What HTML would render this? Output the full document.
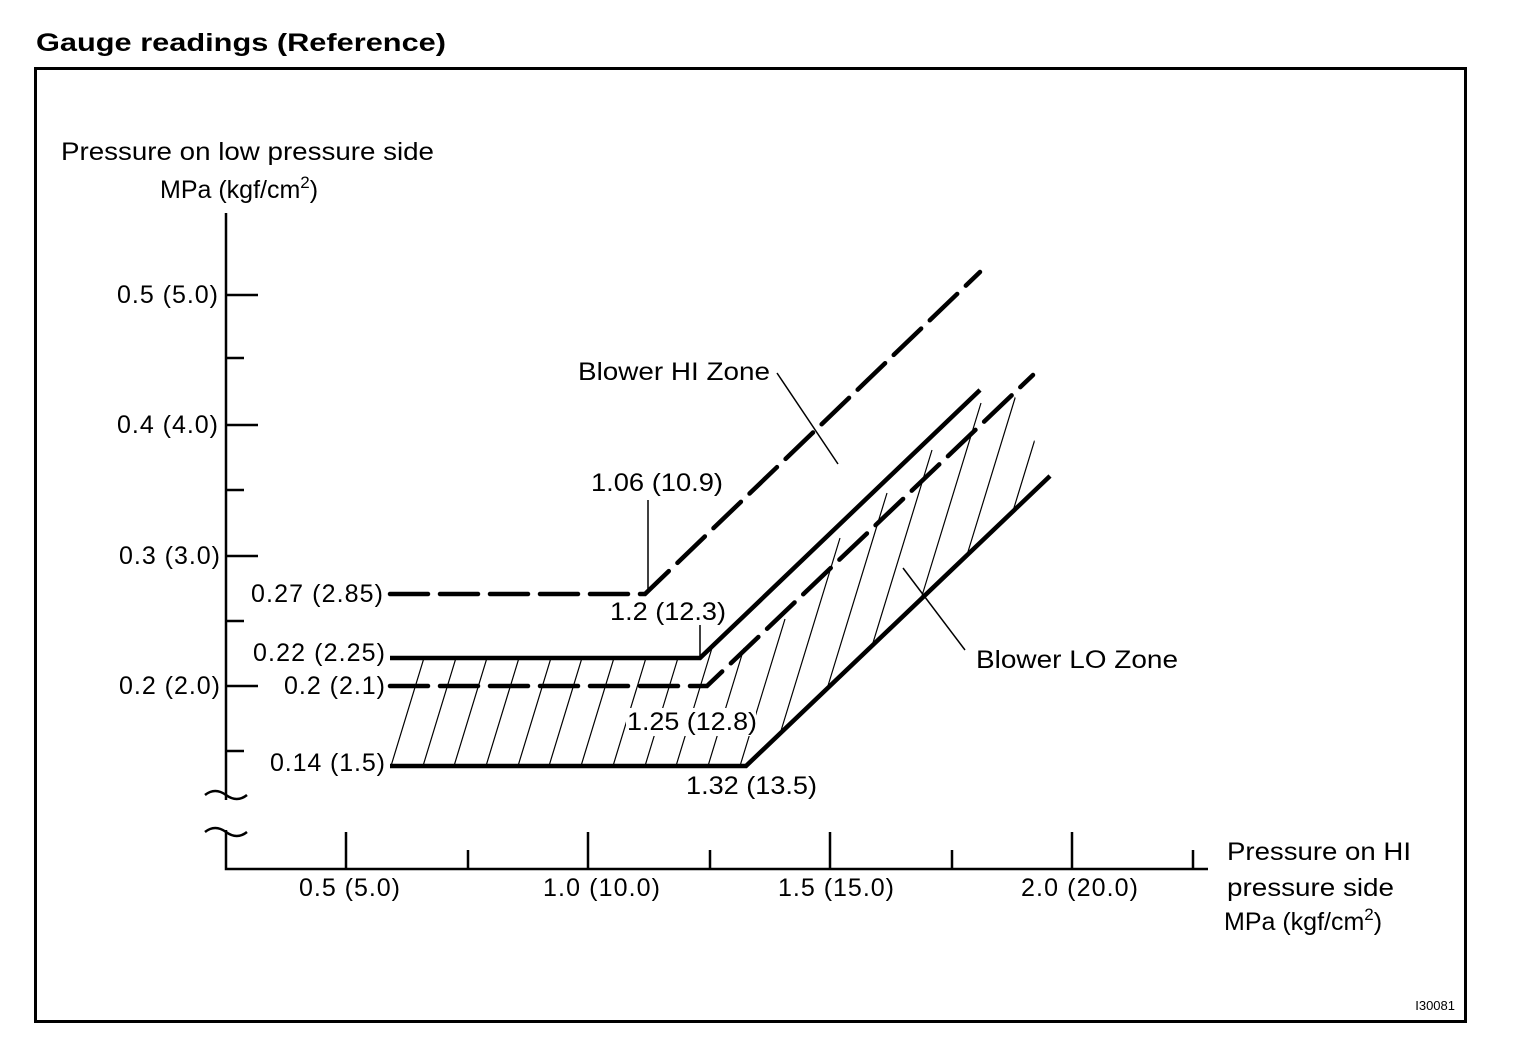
<!DOCTYPE html>
<html><head><meta charset="utf-8"><style>
html,body{margin:0;padding:0;background:#fff}
svg text{font-family:"Liberation Sans",Arial,sans-serif;fill:#000}
</style></head><body>
<svg width="1520" height="1046" viewBox="0 0 1520 1046" xmlns="http://www.w3.org/2000/svg">
<defs>
<clipPath id="hz"><polygon points="390,658 700,658 980,390 1012,390 1050,476 746,766 390,766"/></clipPath>
</defs>
<text x="36" y="51" font-size="25" font-weight="bold" textLength="410" lengthAdjust="spacingAndGlyphs">Gauge readings (Reference)</text>
<rect x="35.5" y="68.5" width="1430" height="953" fill="none" stroke="#000" stroke-width="3"/>
<text x="61" y="160" font-size="25" textLength="373" lengthAdjust="spacingAndGlyphs">Pressure on low pressure side</text>
<text x="160" y="198" font-size="25">MPa (kgf/cm<tspan font-size="17" dy="-10">2</tspan><tspan dy="10">)</tspan></text>
<g clip-path="url(#hz)" stroke="#000" stroke-width="1.2">
<path d="M391,766 l36,-118 M423,766 l36,-118 M454,766 l36,-118 M486,766 l36,-118 M518,766 l36,-118 M549,766 l36,-118 M581,766 l36,-118 M613,766 l36,-118 M645,766 l36,-118 M676,766 l36,-118 M708,766 l36,-118 M740,766 l45,-147"/>
<path d="M780,734 l60,-196 M827,689 l60,-196 M872,646 l60,-196 M921,599 l60,-196 M967,555 l60,-196 M1013,511 l60,-196"/>
</g>
<rect x="626" y="708" width="130" height="28" fill="#fff"/>
<g stroke="#000" fill="none" stroke-width="2.5">
<path d="M226,213 V800"/>
<path d="M205,795 q10,-8 21,0 q11,8 21,0"/>
<path d="M205,832 q10,-8 21,0 q11,8 21,0"/>
<path d="M226,830 V869 H1208"/>
<path d="M226,295H258 M226,358H244 M226,425H258 M226,490H244 M226,556H258 M226,621H244 M226,686H258 M226,751H244"/>
<path d="M346,832V869 M468,850V869 M588,832V869 M710,850V869 M830,832V869 M952,850V869 M1072,832V869 M1193,850V869"/>
</g>
<g font-size="25" lengthAdjust="spacingAndGlyphs">
<text x="117" y="303" textLength="101">0.5 (5.0)</text>
<text x="117" y="433" textLength="101">0.4 (4.0)</text>
<text x="119" y="564" textLength="101">0.3 (3.0)</text>
<text x="119" y="694" textLength="101">0.2 (2.0)</text>
<text x="251" y="602" textLength="132">0.27 (2.85)</text>
<text x="253" y="661" textLength="132">0.22 (2.25)</text>
<text x="284" y="694" textLength="101">0.2 (2.1)</text>
<text x="270" y="771" textLength="115">0.14 (1.5)</text>
<text x="299" y="896" textLength="101">0.5 (5.0)</text>
<text x="543" y="896" textLength="117">1.0 (10.0)</text>
<text x="778" y="896" textLength="116">1.5 (15.0)</text>
<text x="1021" y="896" textLength="117">2.0 (20.0)</text>
</g>
<g font-size="25">
<text x="1227" y="860" textLength="184" lengthAdjust="spacingAndGlyphs">Pressure on HI</text>
<text x="1227" y="896" textLength="167" lengthAdjust="spacingAndGlyphs">pressure side</text>
<text x="1224" y="930">MPa (kgf/cm<tspan font-size="17" dy="-10">2</tspan><tspan dy="10">)</tspan></text>
<text x="578" y="380" textLength="192" lengthAdjust="spacingAndGlyphs">Blower HI Zone</text>
<text x="591" y="491" textLength="132" lengthAdjust="spacingAndGlyphs">1.06 (10.9)</text>
<text x="610" y="620" textLength="116" lengthAdjust="spacingAndGlyphs">1.2 (12.3)</text>
<text x="627" y="730" textLength="130" lengthAdjust="spacingAndGlyphs">1.25 (12.8)</text>
<text x="686" y="794" textLength="131" lengthAdjust="spacingAndGlyphs">1.32 (13.5)</text>
<text x="976" y="668" textLength="202" lengthAdjust="spacingAndGlyphs">Blower LO Zone</text>
</g>
<text x="1455" y="1010" font-size="13" text-anchor="end">I30081</text>
<g stroke="#000" fill="none" stroke-width="4.5">
<path d="M390,658 H700 L980,390"/>
<path d="M390,766 H746 L1050,476"/>
</g>
<g stroke="#000" fill="none" stroke-width="4.5" stroke-dasharray="38,12" stroke-linecap="round">
<path d="M390,594 H645 L980,272"/>
<path d="M390,686 H707 L1033,375"/>
</g>
<g stroke="#000" stroke-width="1.5">
<path d="M777,373 L838,464"/>
<path d="M648,500 V590"/>
<path d="M700,625 V656"/>
<path d="M903,568 L965,650"/>
</g>
</svg>
</body></html>
